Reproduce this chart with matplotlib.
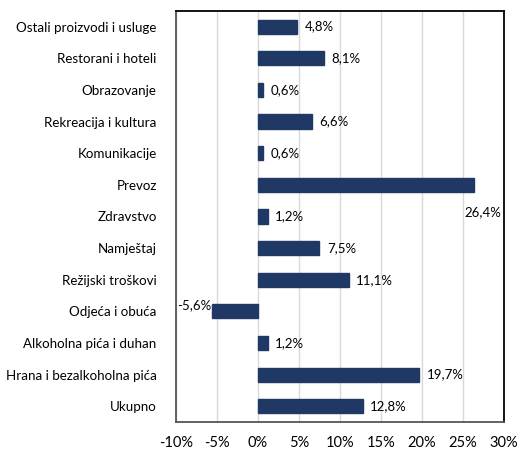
import matplotlib
matplotlib.use('Agg')
import matplotlib.pyplot as plt
from matplotlib.ticker import FuncFormatter

categories = ['Ostali proizvodi i usluge', 'Restorani i hoteli', 'Obrazovanje',
              'Rekreacija i kultura', 'Komunikacije', 'Prevoz', 'Zdravstvo',
              'Namještaj', 'Režijski troškovi', 'Odjeća i obuća',
              'Alkoholna pića i duhan', 'Hrana i bezalkoholna pića', 'Ukupno']
values = [4.8, 8.1, 0.6, 6.6, 0.6, 26.4, 1.2, 7.5, 11.1, -5.6, 1.2, 19.7, 12.8]
xticks = [-10, -5, 0, 5, 10, 15, 20, 25, 30]

plt.rcParams['font.family'] = ['Lato', 'DejaVu Sans']

fig = plt.figure(figsize=(5.32, 4.5), dpi=100)
ax = fig.add_axes([0.331, 0.062, 0.616, 0.914])

ypos = list(range(len(categories)))[::-1]
ax.barh(ypos, values, height=0.45, color='#1f3864', edgecolor='#1f3864', zorder=3)

for y, v, name in zip(ypos, values, categories):
    txt = f'{v:.1f}'.replace('.', ',') + '%'
    if name == 'Prevoz':
        ax.text(v + 1.1, y - 0.85, txt, ha='center', va='center', fontsize=9.5, zorder=4)
    elif v < 0:
        ax.text(v - 0.1, y + 0.2, txt, ha='right', va='center', fontsize=9.5, zorder=4)
    else:
        ax.text(v + 0.9, y, txt, ha='left', va='center', fontsize=9.5, zorder=4)

ax.set_xlim(-10, 30)
ax.set_ylim(-0.5, len(categories) - 0.5)
ax.set_xticks(xticks)
ax.xaxis.set_major_formatter(FuncFormatter(lambda x, p: f'{int(x)}%'))
ax.set_yticks(ypos)
ax.set_yticklabels(categories)
ax.tick_params(axis='both', length=0, labelsize=9.6)
ax.tick_params(axis='y', pad=14)
ax.tick_params(axis='x', pad=10, labelsize=10.5)
ax.grid(axis='x', color='#d9d9d9', linewidth=1, zorder=0)
for s in ax.spines.values():
    s.set_linewidth(1.3)
    s.set_color('black')
ax.spines['left'].set_color('#555555')
ax.spines['bottom'].set_color('#555555')

fig.savefig('out.png', dpi=100)
